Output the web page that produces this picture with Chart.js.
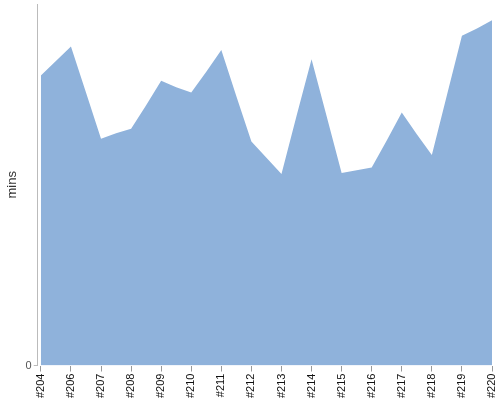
<!DOCTYPE html>
<html lang="en">
<head>
    <meta charset="UTF-8">
    <title>Build time</title>
    <script src="https://cdn.jsdelivr.net/npm/chart.js"></script>
    <style>
        body { margin: 0; background: #fff; }
    </style>
</head>
<body>
    <canvas id="buildChart" width="500" height="400"></canvas>

    <script>
        // shown labels (every other category)
        const tickLabels = ['#204', '#206', '#207', '#208', '#209', '#210', '#211', '#212',
                            '#213', '#214', '#215', '#216', '#217', '#218', '#219', '#220'];
        // build duration in mins, one per category (31 points)
        const durations = [32.1, 33.7, 35.3, 30.2, 25.1, 25.7, 26.2, 28.8, 31.5, 30.8,
                           30.2, 32.5, 34.9, 29.8, 24.8, 23.0, 21.2, 27.6, 33.9, 27.6,
                           21.3, 21.6, 21.9, 24.9, 28.0, 25.6, 23.3, 29.9, 36.5, 37.3, 38.2];

        // categories: labelled point, then an unlabelled one in between
        const categories = [];
        tickLabels.forEach(function(l, i) {
            categories.push(l);
            if (i < tickLabels.length - 1) categories.push('');
        });

        const font = "'Liberation Sans', Arial, sans-serif";

        new Chart(document.getElementById('buildChart'), {
            type: 'line',
            data: {
                labels: categories,
                datasets: [{
                    data: durations,
                    backgroundColor: '#8fb2db',
                    borderWidth: 0,
                    pointRadius: 0,
                    fill: 'origin',
                    tension: 0
                }]
            },
            options: {
                responsive: false,
                animation: false,
                layout: { padding: { top: 4, right: 8, left: 5 } },
                plugins: {
                    legend: { display: false },
                    tooltip: { enabled: false }
                },
                scales: {
                    x: {
                        afterBuildTicks: function(scale) {
                            scale.ticks = scale.ticks.filter(function(t) { return t.value % 2 === 0; });
                            // small gap between the y axis line and the first point
                            scale._startValue -= 0.21;
                            scale._valueRange += 0.21;
                        },
                        afterFit: function(scale) {
                            scale.paddingRight = 0;
                        },
                        border: { display: false },
                        grid: { drawOnChartArea: false, tickLength: 6, color: '#999' },
                        ticks: {
                            autoSkip: false,
                            minRotation: 90,
                            maxRotation: 90,
                            padding: 2,
                            color: '#111',
                            font: { family: font, size: 11 }
                        }
                    },
                    y: {
                        min: 0,
                        max: 40,
                        afterBuildTicks: function(scale) {
                            scale.ticks = [{ value: 0 }];
                        },
                        afterFit: function(scale) {
                            // no label at the top, so no room needed for it
                            scale.paddingTop = 0;
                        },
                        border: { color: '#bbb' },
                        grid: { drawOnChartArea: false, tickLength: 4, color: '#bbb' },
                        ticks: {
                            color: '#555',
                            padding: 2,
                            font: { family: font, size: 11 }
                        },
                        title: {
                            display: true,
                            text: 'mins',
                            color: '#333',
                            padding: { top: 0, bottom: 3 },
                            font: { family: font, size: 13 }
                        }
                    }
                }
            }
        });
    </script>
</body>
</html>
